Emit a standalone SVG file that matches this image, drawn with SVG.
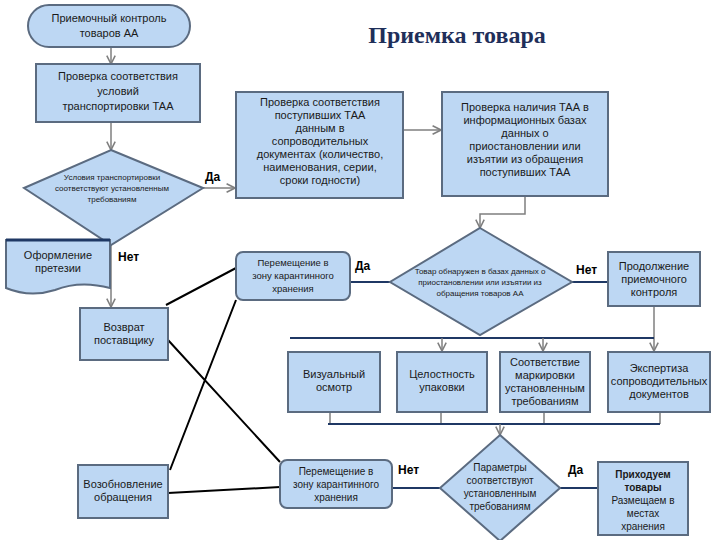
<svg xmlns="http://www.w3.org/2000/svg" width="720" height="540" viewBox="0 0 720 540">
<defs>
<marker id="ar" viewBox="0 0 10 10" refX="9" refY="5" markerWidth="7" markerHeight="7" orient="auto"><path d="M1,1 L9,5 L1,9" fill="none" stroke="#7f7f7f" stroke-width="1.5"/></marker>
<style>
.n{fill:#bdd7f3;stroke:#5b6b80;stroke-width:2}
.t{font-family:"Liberation Sans",Arial,sans-serif;font-size:11px;fill:#1a1a1a;text-anchor:middle}
.s{font-size:8px}
.b{font-weight:bold}
.l{font-family:"Liberation Sans",Arial,sans-serif;font-size:12px;font-weight:bold;fill:#000}
.c{fill:none;stroke:#7f7f7f;stroke-width:1.5}
.d{fill:none;stroke:#1f3864;stroke-width:2}
.k{fill:none;stroke:#000;stroke-width:2}
</style>
</defs>
<rect width="720" height="540" fill="#fff"/>
<text x="457" y="43" font-family="Liberation Serif,serif" font-size="24" font-weight="bold" fill="#1f2f5a" text-anchor="middle">Приемка товара</text>
<g id="connectors">
<path class="c" d="M111,47 V64" marker-end="url(#ar)"/>
<path class="c" d="M111,122 V150" marker-end="url(#ar)"/>
<path class="c" d="M203,188 H235" marker-end="url(#ar)"/>
<path class="c" d="M403,130 H441" marker-end="url(#ar)"/>
<path class="c" d="M525,196 V214 H480 V228" marker-end="url(#ar)"/>
<path class="c" d="M111,245 V307" marker-end="url(#ar)"/>
<path class="c" d="M96,276 H111"/>
<path class="d" d="M390,282 H350"/>
<path class="d" d="M572,282 H608"/>
<path class="c" d="M654,306 V351" marker-end="url(#ar)"/>
<path class="d" d="M290,338 H654"/>
<path class="c" d="M442,338 V351" marker-end="url(#ar)"/>
<path class="c" d="M543,338 V351" marker-end="url(#ar)"/>
<path class="c" d="M330,412 V424 M441,412 V424 M544,412 V424 M660,412 V424"/>
<path class="d" d="M328,424 H660"/>
<path class="c" d="M500,424 V435" marker-end="url(#ar)"/>
<path class="d" d="M392,488 H440"/>
<path class="d" d="M560,488 H598"/>
<path class="k" d="M236,268 L166,305 M236,300 L170,470 M168,340 L280,462 M168,493 L280,487"/>
</g>
<g id="start"><rect x="28" y="5" width="162" height="42" rx="21" class="n"/><text class="t" x="109" y="22">Приемочный контроль</text><text class="t" x="109" y="37">товаров АА</text></g>
<g id="check1"><rect x="36" y="64" width="164" height="58" class="n"/><text class="t" x="118" y="80">Проверка соответствия</text><text class="t" x="118" y="95">условий</text><text class="t" x="118" y="110">транспортировки ТАА</text></g>
<g id="dec1"><polygon points="111,150 203,188 111,245 24,188" class="n"/><text class="t s" x="112" y="180">Условия транспортировки</text><text class="t s" x="112" y="191">соответствуют установленным</text><text class="t s" x="112" y="202">требованиям</text></g>
<text class="l" x="205" y="181">Да</text>
<text class="l" x="118" y="261">Нет</text>
<g id="check2"><rect x="236" y="92" width="167" height="106" class="n"/><text class="t" x="320" y="106">Проверка соответствия</text><text class="t" x="320" y="119">поступивших ТАА</text><text class="t" x="320" y="132">данным в</text><text class="t" x="320" y="145">сопроводительных</text><text class="t" x="320" y="158">документах (количество,</text><text class="t" x="320" y="171">наименования, серии,</text><text class="t" x="320" y="184">сроки годности)</text></g>
<g id="check3"><rect x="442" y="92" width="166" height="104" class="n"/><text class="t" x="525" y="111">Проверка наличия ТАА в</text><text class="t" x="525" y="124">информационных базах</text><text class="t" x="525" y="137">данных о</text><text class="t" x="525" y="150">приостановлении или</text><text class="t" x="525" y="163">изъятии из обращения</text><text class="t" x="525" y="176">поступивших ТАА</text></g>
<g id="claim"><path d="M6,240 H110 V288 Q80,280 55,290 Q30,298 6,288 Z" class="n"/><path d="M6,240 H110" stroke="#1f3864" stroke-width="3"/><text class="t" x="58" y="259">Оформление</text><text class="t" x="58" y="272">претезии</text></g>
<g id="dec2"><polygon points="480,228 572,282 480,335 390,282" class="n"/><text class="t s" x="480" y="274">Товар обнаружен в базах данных о</text><text class="t s" x="480" y="285">приостановлении или изъятии из</text><text class="t s" x="480" y="296">обращения товаров АА</text></g>
<text class="l" x="355" y="270">Да</text>
<text class="l" x="576" y="274">Нет</text>
<g id="quar1"><rect x="236" y="252" width="114" height="48" rx="7" class="n"/><text class="t s" x="293" y="266" style="font-size:9.5px">Перемещение в</text><text class="t s" x="293" y="279" style="font-size:9.5px">зону карантинного</text><text class="t s" x="293" y="292" style="font-size:9.5px">хранения</text></g>
<g id="cont"><rect x="608" y="252" width="92" height="54" class="n"/><text class="t" x="654" y="270">Продолжение</text><text class="t" x="654" y="283">приемочного</text><text class="t" x="654" y="296">контроля</text></g>
<g id="ret"><rect x="80" y="308" width="88" height="52" class="n"/><text class="t" x="124" y="331">Возврат</text><text class="t" x="124" y="344">поставщику</text></g>
<g id="vis"><rect x="288" y="352" width="92" height="60" class="n"/><text class="t" x="334" y="378">Визуальный</text><text class="t" x="334" y="391">осмотр</text></g>
<g id="pack"><rect x="397" y="352" width="90" height="60" class="n"/><text class="t" x="442" y="378">Целостность</text><text class="t" x="442" y="391">упаковки</text></g>
<g id="mark"><rect x="500" y="352" width="90" height="60" class="n"/><text class="t" x="545" y="366">Соответствие</text><text class="t" x="545" y="379">маркировки</text><text class="t" x="545" y="392">установленным</text><text class="t" x="545" y="405">требованиям</text></g>
<g id="exp"><rect x="608" y="352" width="102" height="60" class="n"/><text class="t" x="659" y="372">Экспертиза</text><text class="t" x="659" y="385">сопроводительных</text><text class="t" x="659" y="398">документов</text></g>
<g id="renew"><rect x="78" y="465" width="90" height="53" class="n"/><text class="t" x="123" y="488">Возобновление</text><text class="t" x="123" y="501">обращения</text></g>
<g id="quar2"><rect x="280" y="460" width="112" height="48" rx="7" class="n"/><text class="t" x="336" y="475" style="font-size:10px">Перемещение в</text><text class="t" x="336" y="488" style="font-size:10px">зону карантинного</text><text class="t" x="336" y="501" style="font-size:10px">хранения</text></g>
<g id="dec3"><polygon points="500,435 560,488 500,541 440,488" class="n"/><text class="t" x="500" y="471" style="font-size:10px">Параметры</text><text class="t" x="500" y="484" style="font-size:10px">соответствуют</text><text class="t" x="500" y="497" style="font-size:10px">установленным</text><text class="t" x="500" y="510" style="font-size:10px">требованиям</text></g>
<text class="l" x="398" y="474">Нет</text>
<text class="l" x="568" y="474">Да</text>
<g id="accept"><rect x="598" y="462" width="90" height="73" class="n"/><text class="t b" x="643" y="478" style="font-size:10px">Приходуем</text><text class="t b" x="643" y="491" style="font-size:10px">товары</text><text class="t" x="643" y="504" style="font-size:10px">Размещаем в</text><text class="t" x="643" y="517" style="font-size:10px">местах</text><text class="t" x="643" y="530" style="font-size:10px">хранения</text></g>
</svg>
